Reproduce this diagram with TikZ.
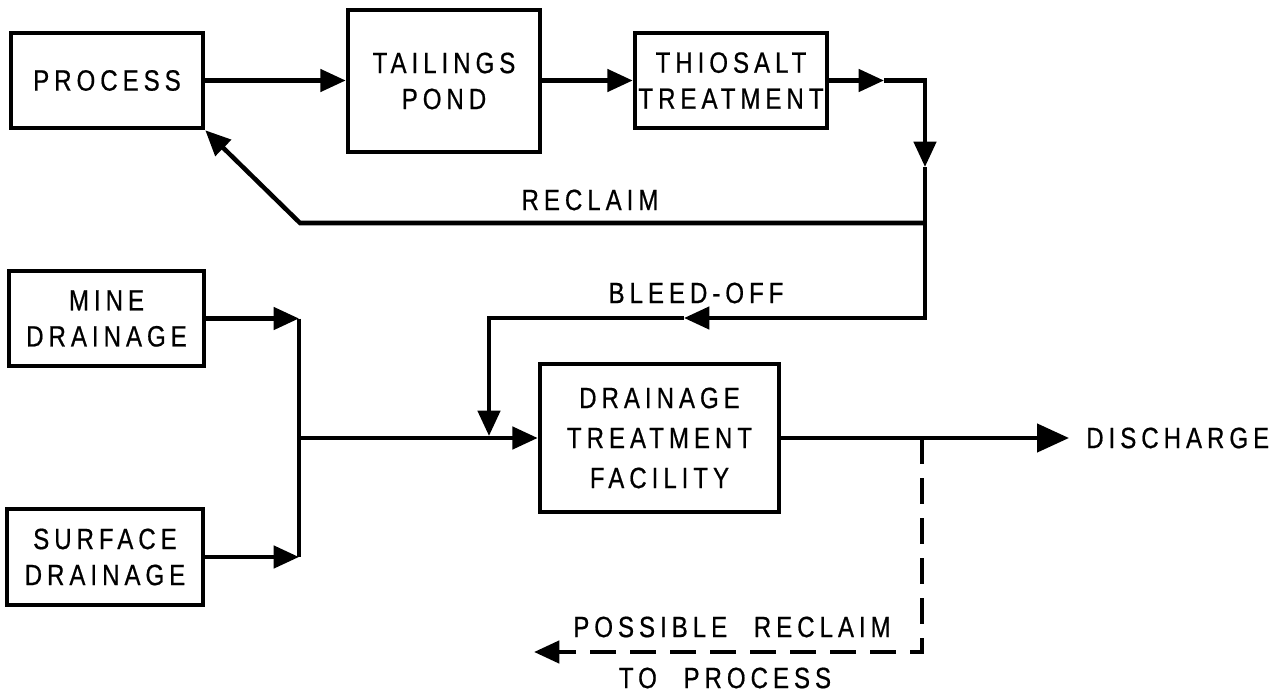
\documentclass[tikz,border=0pt]{standalone}
\usepackage{fontspec}
\setmainfont{Liberation Sans}[FakeStretch=0.82, LetterSpace=17, FakeBold=0.6]
\usetikzlibrary{arrows.meta}
\newdimen\pxu \pxu=0.75pt
\newcommand\lblfont{\fontsize{22}{27}\selectfont}
\newcommand\lblfontwide{\fontsize{22}{30}\selectfont}
\newcommand\wsp{\hspace*{20pt}}
\begin{document}
\begin{tikzpicture}[x=0.75pt,y=-0.75pt,
  box/.style={draw, line width=3.4pt, rectangle, inner sep=0pt, align=center, font=\lblfont},
  lbl/.style={inner sep=0pt, font=\lblfont},
  conn/.style={line width=3.4pt},
  arr/.style={line width=3.4pt, -{Triangle[length=19pt,width=16.5pt]}},
  bigarr/.style={line width=3.4pt, -{Triangle[length=24pt,width=21pt]}},
  dsh/.style={dash pattern=on 19.5pt off 10.5pt}]
\useasboundingbox (0,0) rectangle (1282,692);

% boxes
\node[box, minimum width=192\pxu, minimum height=95\pxu] (process) at (107,80.5) {PROCESS};
\node[box, minimum width=192\pxu, minimum height=142\pxu] (tailings) at (444,81) {TAILINGS\\POND};
\node[box, minimum width=192\pxu, minimum height=95\pxu] (thiosalt) at (731,80.5) {THIOSALT\\TREATMENT};
\node[box, minimum width=195\pxu, minimum height=95\pxu] (mine) at (106.5,318.5) {MINE\\DRAINAGE};
\node[box, minimum width=196\pxu, minimum height=96\pxu] (surface) at (105,557) {SURFACE\\DRAINAGE};
\node[box, minimum width=239\pxu, minimum height=148\pxu, font=\lblfontwide] (drain) at (659.5,438) {DRAINAGE\\TREATMENT\\FACILITY};

% labels
\node[lbl] (reclaim) at (590,200) {RECLAIM};
\node[lbl] (bleed) at (696,293) {BLEED-OFF};
\node[lbl, anchor=west, inner xsep=17\pxu] (disch) at (1069,438) {DISCHARGE};
\node[lbl] (possible) at (732,627) {POSSIBLE\wsp RECLAIM};
\node[lbl] (toproc) at (725,678) {TO\wsp PROCESS};

% coordinates
\coordinate (tA) at (884,80.5);
\coordinate (tB) at (925,80.5);
\coordinate (tC) at (925,167);
\coordinate (tD) at (925,223);
\coordinate (tE) at (925,318);
\coordinate (r1) at (300,223);
\coordinate (b1) at (684,318);
\coordinate (b2) at (489,318);
\coordinate (b3) at (489,436);
\coordinate (m1) at (299,318.5);
\coordinate (s1) at (299,557);
\coordinate (j1) at (299,438);
\coordinate (d1) at (922,438);
\coordinate (d2) at (922,652);
\coordinate (d3) at (534,652);

% connectors
\draw[arr] (process.east) -- (tailings.west |- process.east);
\draw[arr] (tailings.east |- thiosalt.west) -- (thiosalt.west);
\draw[arr] (thiosalt.east) -- (tA);
\draw[arr] (tA) -- (tB) -- (tC);
\draw[arr] (tC) -- (tE) -- (b1);
\draw[arr] (b1) -- (b2) -- (b3);
\draw[arr] (tD) -- (r1) -- (process.south east);
\draw[arr] (mine.east) -- (m1);
\draw[arr] (surface.east) -- (s1);
\draw[conn] (m1) -- (s1);
\draw[arr] (j1) -- (drain.west);
\draw[bigarr] (drain.east) -- (disch.west);
\draw[arr, dsh] (d1) -- (d2) -- (d3);
\end{tikzpicture}
\end{document}
